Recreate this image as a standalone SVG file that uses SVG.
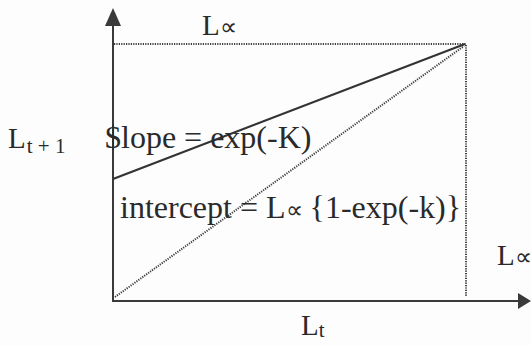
<svg xmlns="http://www.w3.org/2000/svg" width="531" height="346" viewBox="0 0 531 346">
<style>
text{font-family:"Liberation Serif","Times New Roman",serif;fill:#2a2a2a}
.big{font-size:32px}
.lab{font-size:29px}
.sub{font-size:21px}
.inf{font-size:24px}
.axis{stroke:#3a3a3a;stroke-width:2;fill:none}
.dot{stroke:#3c3c3c;stroke-width:2;stroke-dasharray:1.2 1.2;fill:none}
.solid{stroke:#333;stroke-width:2.2;fill:none}
</style>
<rect width="531" height="346" fill="#fdfdfd"/>
<g id="connectors">
<line class="axis" x1="113" y1="24" x2="113" y2="301"/>
<polygon points="113,8 105,26 121,26" fill="#3a3a3a"/>
<line class="axis" x1="112" y1="301" x2="520" y2="301"/>
<polygon points="531,301 518,293 518,309" fill="#3a3a3a"/>
<line class="dot" x1="114" y1="44" x2="466" y2="44"/>
<line class="dot" x1="466" y1="45" x2="466" y2="296"/>
<line class="dot" x1="115" y1="297" x2="464" y2="46"/>
<line class="solid" x1="113" y1="179" x2="465" y2="44"/>
</g>
<g id="label-linf-top"><text class="lab" x="202" y="35">L<tspan class="inf">∝</tspan></text></g>
<g id="label-lt1"><text class="lab" x="8" y="148">L<tspan class="sub" dx="1" dy="5">t + 1</tspan></text></g>
<g id="label-slope"><text class="big" x="105" y="148">$lope = exp(-K)</text></g>
<g id="label-intercept"><text class="big" x="120" y="218">intercept = L<tspan class="inf">∝</tspan><tspan dx="7">{1-exp(-k)}</tspan></text></g>
<g id="label-linf-right"><text class="lab" x="497" y="265">L<tspan class="inf">∝</tspan></text></g>
<g id="label-lt"><text class="lab" x="301" y="335">L<tspan class="sub" dy="2">t</tspan></text></g>
</svg>
